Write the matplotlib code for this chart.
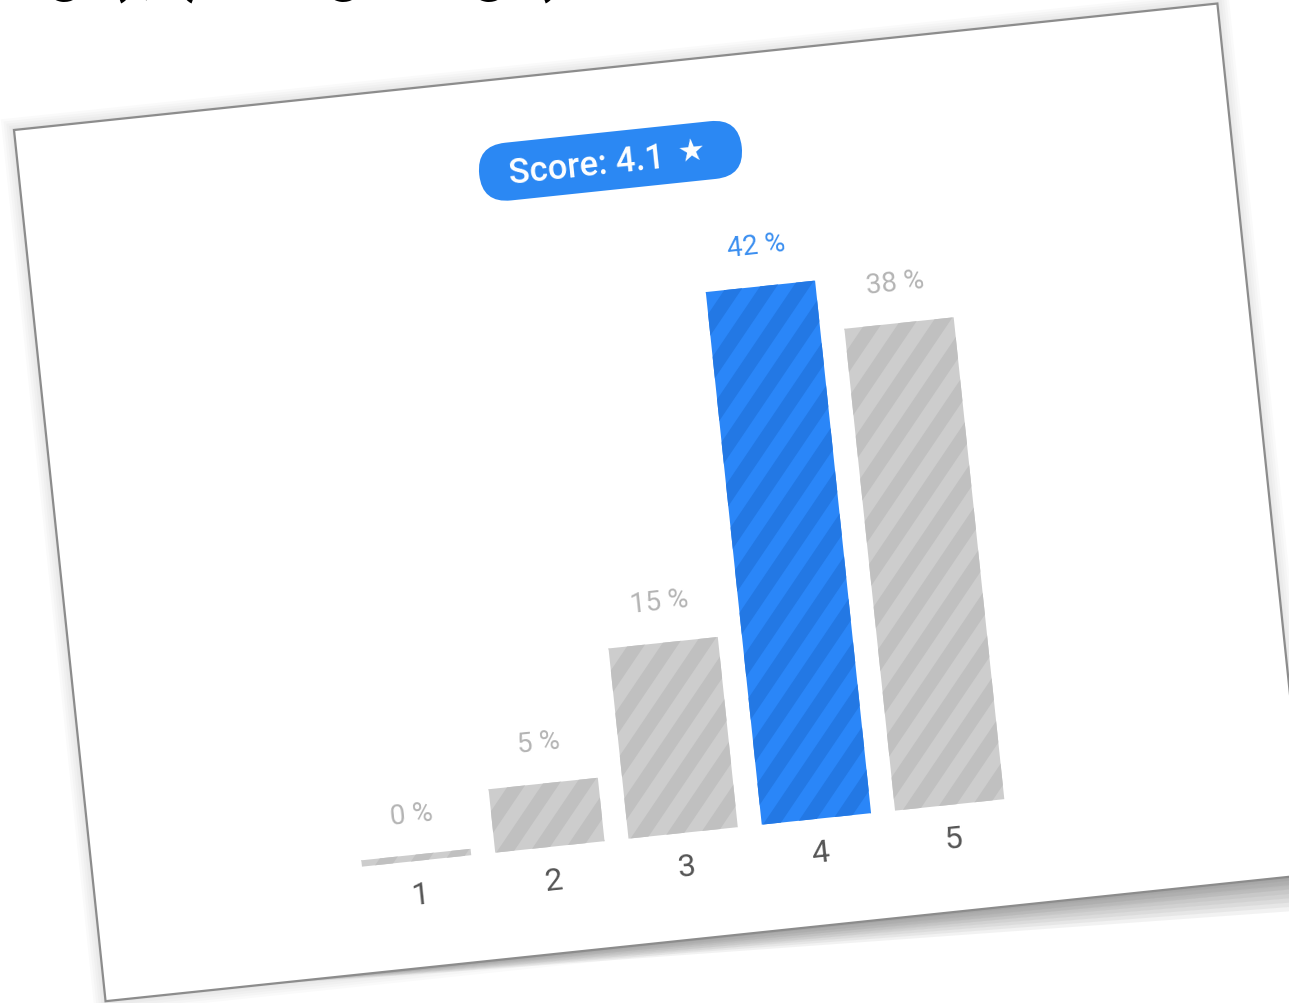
import numpy as np
import matplotlib
matplotlib.use("Agg")
import matplotlib.pyplot as plt
from matplotlib.transforms import Affine2D
from matplotlib.patches import Polygon, FancyBboxPatch
from matplotlib.collections import LineCollection

plt.rcParams['font.family'] = ['Roboto', 'DejaVu Sans']

# data
ratings = ['1', '2', '3', '4', '5']
shares = [0, 5, 15, 42, 38]
highlight = 3
score = 4.1

# card geometry (pixels), card is tilted by ~6 degrees
card_w, card_h = 1210, 876
theta = np.deg2rad(6.0)
c, s = np.cos(theta), np.sin(theta)

fig = plt.figure(figsize=(6.445, 5.02), dpi=200)
ax = fig.add_axes([0, 0, 1, 1])
ax.set_xlim(0, 1289)
ax.set_ylim(1004, 0)
ax.set_autoscale_on(False)
ax.axis('off')

card_tf = Affine2D(np.array([[c, s, 14], [-s, c, 131], [0, 0, 1]]))
card = card_tf + ax.transData
# bar coords -> card coords: x index, y percent
chart_tf = Affine2D(np.array([[134, 0, 324], [0, -12.75, 769], [0, 0, 1]]))
chart = chart_tf + card

# cropped heading above the card
ax.text(-335, -11, "Rating (average), (rating range)", fontsize=23,
        fontweight='bold', color='black', va='baseline', ha='left')

# shadow under the card
for k in range(8):
    t = 4 + k * 4.5
    shadow = Polygon([(60, card_h - 4), (card_w, card_h - 4),
                      (card_w + t * 0.3, card_h + t), (300, card_h + t * 0.15)],
                     closed=True, facecolor='#606060', edgecolor='none',
                     alpha=0.08, transform=card)
    ax.add_patch(shadow)
for k in range(5):
    d = 2 + k * 2.5
    halo = Polygon([(-d, -d), (card_w + d, -d), (card_w + d, card_h + d),
                    (-d, card_h + d)], closed=True, facecolor='#808080',
                   edgecolor='none', alpha=0.04, transform=card)
    ax.add_patch(halo)

card_patch = Polygon([(0, 0), (card_w, 0), (card_w, card_h), (0, card_h)],
                     closed=True, facecolor='white', edgecolor='#8c8c8c',
                     linewidth=0.8, transform=card)
ax.add_patch(card_patch)

# score pill
pill = FancyBboxPatch((458, 64), 264, 58,
                      boxstyle="round,pad=0,rounding_size=29",
                      facecolor='#2b88f3', edgecolor='none', transform=card)
ax.add_patch(pill)
ax.text(566, 95, f"Score: {score}", transform=card, rotation=6,
        rotation_mode='anchor', ha='center', va='center', color='white',
        fontsize=12.5, fontweight='medium')
ax.text(671, 92, "\u2605", transform=card, rotation=6, rotation_mode='anchor',
        ha='center', va='center', color='white', fontsize=11,
        family=['DejaVu Sans'])

# bars
idx = np.arange(len(ratings))
drawn = np.maximum(np.array(shares, dtype=float), 0.5)
faces = ['#2a86f8' if i == highlight else '#cdcdcd' for i in idx]
stripes = ['#2378e4' if i == highlight else '#c0c0c0' for i in idx]
bars = ax.bar(idx, drawn, width=0.82, color=faces, linewidth=0,
              transform=chart)

# diagonal stripes clipped to each bar
period, slope = 36, np.tan(np.deg2rad(50))
for bar, col in zip(bars, stripes):
    (u0, vb), (u1, vt) = chart_tf.transform(
        [(bar.get_x(), 0), (bar.get_x() + bar.get_width(), bar.get_height())])
    hgt = vb - vt + 20
    segs = []
    for x0 in np.arange(u0 - hgt / slope - period, u1 + period, period):
        segs.append([(x0, vb + 10), (x0 + hgt / slope, vb + 10 - hgt)])
    lc = LineCollection(segs, colors=col, linewidths=5.0, transform=card)
    ax.add_collection(lc)
    lc.set_clip_path(bar.get_path(), bar.get_transform())

for i, (lab, val, h) in enumerate(zip(ratings, shares, drawn)):
    u, v = chart_tf.transform((i, h))
    col = '#3b8ff0' if i == highlight else '#b4b4b4'
    ax.text(u, v - 41, f"{val} %", transform=card, rotation=6,
            rotation_mode='anchor', ha='center', va='center', color=col,
            fontsize=10)
    u0, v0 = chart_tf.transform((i, 0))
    ax.text(u0, v0 + 34, lab, transform=card, rotation=6,
            rotation_mode='anchor', ha='center', va='center', color='#555555',
            fontsize=11.5)

fig.savefig("out.png", dpi=200)
